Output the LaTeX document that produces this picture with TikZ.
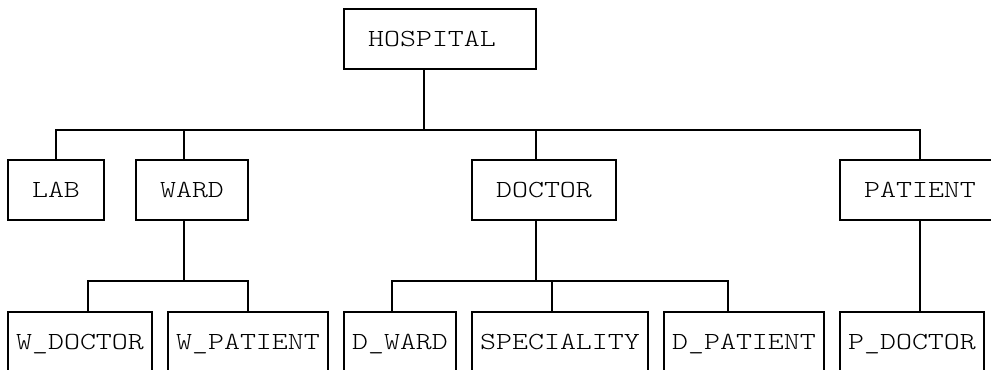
\documentclass[tikz,border=0pt]{standalone}
\usepackage{fontspec}
\newfontfamily\boxfont{Latin Modern Mono Light}[FakeStretch=1.24]
\begin{document}
\begin{tikzpicture}[x=0.75pt, y=-0.75pt,
		box/.style={draw, line width=1.5pt, inner sep=0pt, minimum height=45pt, text depth=0pt, font=\boxfont\fontsize{18.4}{22}\selectfont},
		link/.style={line width=1.5pt}]
			%%%%% START %%%%%
			
			\useasboundingbox (0, 0) rectangle (991, 369);
			\clip (0, 0) rectangle (991, 369);
			
			\node[box, minimum width=144pt] (hospital) at (440, 39) {HOSPITAL\hphantom{X}};
			
			\node[box, minimum width=72pt] (lab) at (56, 190) {LAB};
			\node[box, minimum width=84pt] (ward) at (192, 190) {WARD};
			\node[box, minimum width=108pt] (doctor) at (544, 190) {DOCTOR};
			\node[box, minimum width=120pt] (patient) at (920, 190) {PATIENT};
			
			\node[box, minimum width=108pt] (wdoctor) at (80, 342) {W\_DOCTOR};
			\node[box, minimum width=120pt] (wpatient) at (248, 342) {W\_PATIENT};
			\node[box, minimum width=84pt] (dward) at (400, 342) {D\_WARD};
			\node[box, minimum width=132pt] (speciality) at (560, 342) {SPECIALITY};
			\node[box, minimum width=120pt] (dpatient) at (744, 342) {D\_PATIENT};
			\node[box, minimum width=108pt] (pdoctor) at (912, 342) {P\_DOCTOR};
			
			\coordinate (topbus) at (0, 130);
			\coordinate (lowbus) at (0, 281);
			
			\draw[link] ([xshift=-12pt]hospital.south) -- ([xshift=-12pt]hospital.south |- topbus);
			\draw[link] (lab.north) |- (patient.north |- topbus) -- (patient.north);
			\draw[link] ([xshift=-6pt]ward.north) -- ([xshift=-6pt]ward.north |- topbus);
			\draw[link] ([xshift=-6pt]doctor.north) -- ([xshift=-6pt]doctor.north |- topbus);
			
			\draw[link] ([xshift=-6pt]ward.south) -- ([xshift=-6pt]ward.south |- lowbus);
			\draw[link] ([xshift=6pt]wdoctor.north) |- (wpatient.north |- lowbus) -- (wpatient.north);
			
			\draw[link] ([xshift=-6pt]doctor.south) -- ([xshift=-6pt]doctor.south |- lowbus);
			\draw[link] ([xshift=-6pt]dward.north) |- ([xshift=-12pt]dpatient.north |- lowbus) -- ([xshift=-12pt]dpatient.north);
			\draw[link] ([xshift=-6pt]speciality.north) -- ([xshift=-6pt]speciality.north |- lowbus);
			
			\draw[link] (patient.south) -- ([xshift=6pt]pdoctor.north);
			
			%%%%% END %%%%%
		\end{tikzpicture}
\end{document}
